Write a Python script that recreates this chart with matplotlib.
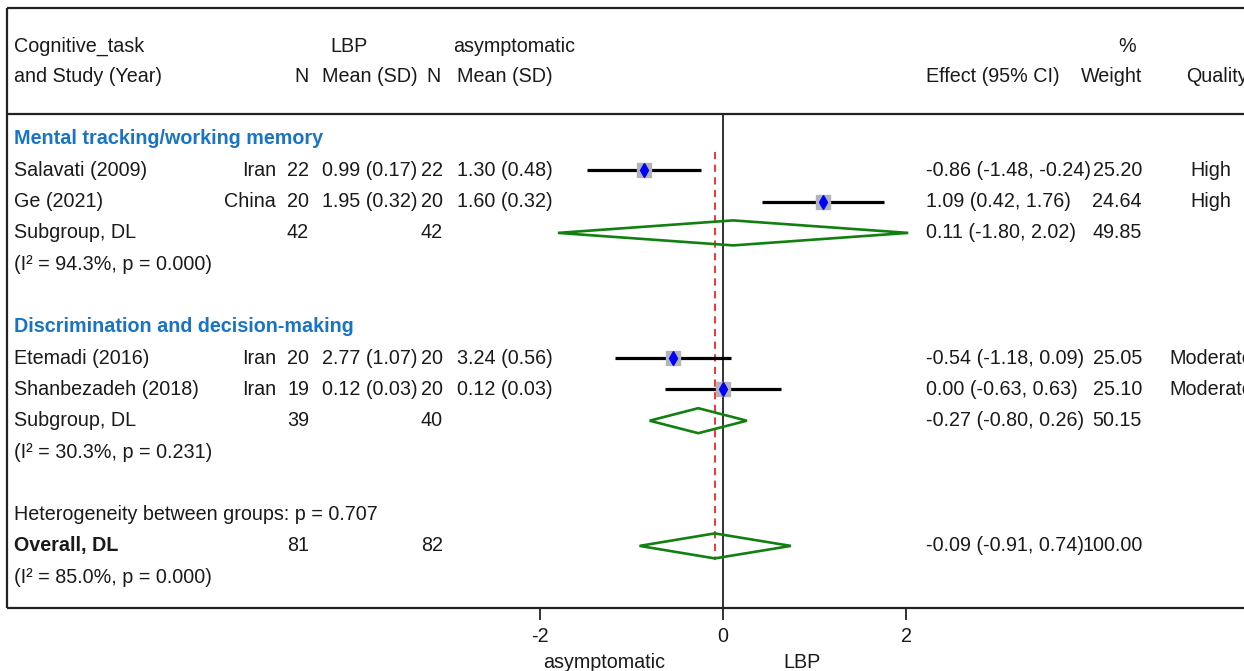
#!/usr/bin/env python
"""Forest plot: cognitive tasks, LBP vs asymptomatic, DL random effects."""
import matplotlib
matplotlib.use("Agg")
import matplotlib.pyplot as plt

plt.rcParams["font.family"] = ["Liberation Sans", "DejaVu Sans"]

# Study rows
studies = ["Salavati (2009)", "Ge (2021)", "Etemadi (2016)", "Shanbezadeh (2018)"]
countries = ["Iran", "China", "Iran", "Iran"]
n_lbp = [22, 20, 20, 19]
mean_lbp = ["0.99 (0.17)", "1.95 (0.32)", "2.77 (1.07)", "0.12 (0.03)"]
n_asym = [22, 20, 20, 20]
mean_asym = ["1.30 (0.48)", "1.60 (0.32)", "3.24 (0.56)", "0.12 (0.03)"]
effect = [-0.86, 1.09, -0.54, 0.00]
ci_low = [-1.48, 0.42, -1.18, -0.63]
ci_high = [-0.24, 1.76, 0.09, 0.63]
weight = [25.20, 24.64, 25.05, 25.10]
quality = ["High", "High", "Moderate", "Moderate"]

# Subgroups + overall (pooled, DL)
groups = ["Mental tracking/working memory", "Discrimination and decision-making"]
sub_n_lbp = [42, 39]
sub_n_asym = [42, 40]
sub_effect = [0.11, -0.27]
sub_low = [-1.80, -0.80]
sub_high = [2.02, 0.26]
sub_weight = [49.85, 50.15]
sub_het = ["(I\u00b2 = 94.3%, p = 0.000)", "(I\u00b2 = 30.3%, p = 0.231)"]

overall_n = [81, 82]
overall_effect = -0.09
overall_low = -0.91
overall_high = 0.74
overall_het = "(I\u00b2 = 85.0%, p = 0.000)"
between_p = "Heterogeneity between groups: p = 0.707"

xticks = [-2, 0, 2]

# ---- layout (pixels) ----
W, H = 1244, 671
X0 = 723.0      # pixel of effect = 0
UNIT = 91.7     # pixels per effect unit
ROW0 = 139.0
DY = 31.3


def px(x):
    return (x - X0) / UNIT


def row(i):
    return ROW0 + DY * i


fig = plt.figure(figsize=(W / 100, H / 100), dpi=100)
ax = fig.add_axes([0, 0, 1, 1])
ax.set_xlim(px(0), px(W))
ax.set_ylim(H, 0)
ax.axis("off")

FS = 14.2
TC = "#1a1a1a"
BLUE = "#1874c4"
GREEN = "#118011"


def txt(xp, y, s, ha="left", **kw):
    kw.setdefault("color", TC)
    ax.text(px(xp), y, s, ha=ha, va="center", fontsize=FS, **kw)


# frame
ax.hlines(8, px(7), px(W), color="#222222", lw=1.6)
ax.vlines(px(7), 8, 608, color="#222222", lw=1.6)
ax.hlines(114, px(7), px(W), color="#222222", lw=1.6)
ax.hlines(608, px(7), px(W), color="#222222", lw=1.6)

# headers
txt(14, 46, "Cognitive_task")
txt(14, 77, "and Study (Year)")
txt(330, 46, "LBP")
txt(453, 46, "asymptomatic")
txt(309, 77, "N", ha="right")
txt(322, 77, "Mean (SD)")
txt(441, 77, "N", ha="right")
txt(457, 77, "Mean (SD)")
txt(926, 77, "Effect (95% CI)")
txt(1127, 46, "%", ha="center")
txt(1142, 77, "Weight", ha="right")
txt(1186, 77, "Quality")

# null line and overall line
ax.vlines(0, 114, 608, color="#222222", lw=1.3)
ax.vlines(overall_effect, 152, 560, color="#e8262b", lw=1.3, linestyles=(0, (4, 3)))

diamond_h = 12.5
study_rows = [[1, 2], [7, 8]]
for g in range(2):
    base = 6 * g
    txt(14, row(base), groups[g], color=BLUE, fontweight="bold")
    for k, i in enumerate(study_rows[g]):
        s = 2 * g + k
        y = row(i)
        txt(14, y, studies[s])
        txt(276, y, countries[s], ha="right")
        txt(309, y, str(n_lbp[s]), ha="right")
        txt(322, y, mean_lbp[s])
        txt(443, y, str(n_asym[s]), ha="right")
        txt(457, y, mean_asym[s])
        ax.hlines(y, ci_low[s], ci_high[s], color="black", lw=2.3, zorder=2)
        ax.plot(effect[s], y, "s", color="#b4b4b4", ms=10.5, zorder=3)
        ax.plot(effect[s], y, "d", color="#0000ff", ms=7, zorder=4)
        txt(926, y, f"{effect[s]:.2f} ({ci_low[s]:.2f}, {ci_high[s]:.2f})")
        txt(1142, y, f"{weight[s]:.2f}", ha="right")
        txt(1211, y, quality[s], ha="center")
    y = row(base + 3)
    txt(14, y, "Subgroup, DL")
    txt(309, y, str(sub_n_lbp[g]), ha="right")
    txt(443, y, str(sub_n_asym[g]), ha="right")
    ax.fill([sub_low[g], sub_effect[g], sub_high[g], sub_effect[g], sub_low[g]],
            [y, y - diamond_h, y, y + diamond_h, y], fill=False,
            edgecolor=GREEN, lw=1.9, zorder=3)
    txt(926, y, f"{sub_effect[g]:.2f} ({sub_low[g]:.2f}, {sub_high[g]:.2f})")
    txt(1142, y, f"{sub_weight[g]:.2f}", ha="right")
    txt(14, row(base + 4), sub_het[g])

# overall
txt(14, row(12), between_p)
y = row(13)
txt(14, y, "Overall, DL", fontweight="bold")
txt(309, y, str(overall_n[0]), ha="right")
txt(443, y, str(overall_n[1]), ha="right")
ax.fill([overall_low, overall_effect, overall_high, overall_effect, overall_low],
        [y, y - diamond_h, y, y + diamond_h, y], fill=False,
        edgecolor=GREEN, lw=1.9, zorder=3)
txt(926, y, f"{overall_effect:.2f} ({overall_low:.2f}, {overall_high:.2f})")
txt(1143, y, "100.00", ha="right")
txt(14, row(14), overall_het)

# effect axis ticks
for t in xticks:
    ax.vlines(t, 608, 620, color="#222222", lw=1.3)
    ax.text(t, 636, str(t), ha="center", va="center", fontsize=FS, color=TC)
ax.text(px(604), 663, "asymptomatic", ha="center", va="center", fontsize=FS, color=TC)
ax.text(px(802), 663, "LBP", ha="center", va="center", fontsize=FS, color=TC)

fig.savefig("out.png", dpi=100)
